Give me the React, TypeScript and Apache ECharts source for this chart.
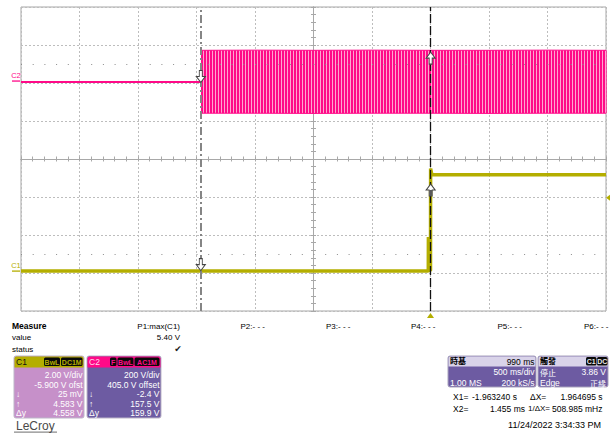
import React, { useEffect, useRef } from "react";
import * as echarts from "echarts";

// ---- Timebase (500 ms/div, 10 div, trigger at t = 0) ----
const timeMin = -3.5;
const timeMax = 1.5;
const timeDiv = 0.5;

// ---- Channel 1 : 2.00 V/div, -5.900 V offset ----
const c1VoltsPerDiv = 2.0;
const c1Offset = -5.9;
const c1Times = [-3.5, -0.019, -0.018, -0.017, 0.0, 0.001, 0.012, 1.5];
const c1Volts = [0.0, 0.0, 1.8, 0.03, 0.03, 5.4, 5.07, 5.07];

// ---- Channel 2 : 200 V/div, 405.0 V offset ----
const c2VoltsPerDiv = 200;
const c2Offset = 405;
const c2FlatTimes = [-3.5, -1.962];
const c2FlatVolts = [0.0, 0.0];
const c2BandTimes = [-1.962, -1.5, -1.0, -0.5, 0.0, 0.5, 1.0, 1.5];
const c2BandUpper = [167, 168, 167, 168, 167, 167, 168, 167];
const c2BandLower = [-164, -164, -165, -164, -164, -165, -164, -164];

// ---- Cursors / trigger ----
const cursorX1 = -1.96324;
const cursorX2 = 0.001455;
const c1AtX1 = 0.025;
const c1AtX2 = 4.583;
const c2AtX1 = -2.4;
const c2AtX2 = 157.5;
const triggerTime = 0;
const triggerLevel = 3.86;

// ---- Readouts ----
const measureHeads = ["P1:max(C1)", "P2:- - -", "P3:- - -", "P4:- - -", "P5:- - -", "P6:- - -"];
const measureRows = ["value", "status"];
const p1Value = "5.40 V";
const c1Readout = ["2.00 V/div", "-5.900 V ofst", "25 mV", "4.583 V", "4.558 V"];
const c2Readout = ["200 V/div", "405.0 V offset", "-2.4 V", "157.5 V", "159.9 V"];
const cursorSymbols = ["↓", "↑", "Δy"];
const timebaseReadout = ["990 ms", "500 ms/div", "1.00 MS", "200 kS/s"];
const triggerReadout = ["停止", "3.86 V", "Edge", "正緣"];
const cursorReadX = ["X1=", "-1.963240 s", "ΔX=", "1.964695 s"];
const cursorReadX2 = ["X2=", "1.455 ms", "1/ΔX=", "508.985 mHz"];
const timestamp = "11/24/2022 3:34:33 PM";

const OLIVE = "#b4ae00";
const MAGENTA = "#ff0a88";
const PINK_LIGHT = "#ffa6d0";
const C1_BODY = "#c690c9";
const PURPLE = "#6d5ba2";
const LAV = "#d9d3e9";
const FONT = '"Liberation Sans", Arial, sans-serif';
const CJK = '"Noto Sans CJK TC", "Noto Sans CJK SC", sans-serif';

const d1 = (v: number) => (v + c1Offset) / c1VoltsPerDiv;
const d2 = (v: number) => (v + c2Offset) / c2VoltsPerDiv;

function txt(text: string, x: number, y: number, size: number, fill: string, align = "left", weight = "normal", family = FONT) {
  return {
    type: "text",
    x,
    y,
    silent: true,
    z: 10,
    style: { text, font: `${weight} ${size}px ${family}`, fill, textAlign: align, textVerticalAlign: "middle" },
  };
}
function rect(x: number, y: number, w: number, h: number, fill: string, r: any = 0, stroke?: string) {
  return {
    type: "rect",
    silent: true,
    z: 9,
    shape: { x, y, width: w, height: h, r },
    style: stroke ? { fill, stroke, lineWidth: 1 } : { fill },
  };
}
function tag(label: string, x: number, y: number, w: number, color: string) {
  return [rect(x, y, w, 8.5, "#0a0a0a", 1.5), { ...txt(label, x + w / 2, y + 4.5, 7, color, "center", "bold"), z: 11 }];
}

const DOWN = "path://M3,0L6,0L6,6L9,6L4.5,12L0,6L3,6Z";
const UP = "path://M4.5,0L9,6L6,6L6,12L3,12L3,6L0,6Z";

export default function App() {
  const ref = useRef<HTMLDivElement>(null);
  useEffect(() => {
    if (!ref.current) return;
    const chart = echarts.init(ref.current, null, { renderer: "svg" });

    const cv = document.createElement("canvas");
    cv.width = 3;
    cv.height = 1;
    const ctx = cv.getContext("2d")!;
    ctx.fillStyle = MAGENTA;
    ctx.fillRect(0, 0, 2, 1);
    ctx.fillStyle = PINK_LIGHT;
    ctx.fillRect(2, 0, 1, 1);
    const bandPattern: any = { image: cv, repeat: "repeat", imageWidth: 3, imageHeight: 1 };

    const gridLine = { show: true, lineStyle: { color: "#bdbdbd", type: [2, 2], width: 1 } };
    const centerAxisCommon = {
      min: timeMin,
      max: timeMax,
      interval: timeDiv,
      axisLabel: { show: false },
      splitLine: { show: false },
      axisLine: { show: true, lineStyle: { color: "#a8a8a8", width: 1 } },
      axisTick: { show: true, length: 2.5, lineStyle: { color: "#a8a8a8" } },
      minorTick: { show: true, splitNumber: 5, length: 2.5, lineStyle: { color: "#a8a8a8" } },
    };
    const centerYCommon = { ...centerAxisCommon, min: -4, max: 4, interval: 1 };

    const graphic: any[] = [];
    // Measure table
    graphic.push(txt("Measure", 12, 326, 8.5, "#000", "left", "bold"));
    graphic.push(txt(measureRows[0], 12, 337.5, 8, "#000"));
    graphic.push(txt(measureRows[1], 12, 349, 8, "#000"));
    graphic.push(txt(measureHeads[0], 180, 326, 8, "#000", "right"));
    graphic.push(txt(p1Value, 180, 337.5, 8, "#000", "right"));
    graphic.push(txt("✔", 178, 349, 9, "#222", "center", "normal", '"DejaVu Sans", sans-serif'));
    const pX = [240.5, 326, 411, 497.5, 584];
    for (let i = 1; i < 6; i++) graphic.push(txt(measureHeads[i], pX[i - 1], 326, 8, "#000"));

    // C1 box
    graphic.push(rect(14, 356, 70, 62, C1_BODY, 2, "#bdb6c8"));
    graphic.push(rect(14.5, 356.5, 69, 11, OLIVE, [2, 2, 0, 0]));
    graphic.push(txt("C1", 16, 362, 8.5, "#111"));
    graphic.push(...tag("BwL", 44, 357.5, 16, OLIVE));
    graphic.push(...tag("DC1M", 61, 357.5, 21.5, OLIVE));
    const rowY = [374.5, 384.5, 394.3, 403.7, 413];
    c1Readout.forEach((s, i) => graphic.push(txt(s, 82.5, rowY[i], 8.5, "#fff", "right")));
    cursorSymbols.forEach((s, i) => graphic.push(txt(s, 16, rowY[i + 2], 8.5, "#fff")));

    // C2 box
    graphic.push(rect(87, 356, 74, 62, PURPLE, 2, "#bdb6c8"));
    graphic.push(rect(87.5, 356.5, 73, 11, MAGENTA, [2, 2, 0, 0]));
    graphic.push(txt("C2", 89, 362, 8.5, "#ffd9ec"));
    graphic.push(...tag("F", 110, 357.5, 6.5, MAGENTA));
    graphic.push(...tag("BwL", 117.5, 357.5, 16, MAGENTA));
    graphic.push(...tag("AC1M", 134.5, 357.5, 25, MAGENTA));
    c2Readout.forEach((s, i) => graphic.push(txt(s, 159.5, rowY[i], 8.5, "#fff", "right")));
    cursorSymbols.forEach((s, i) => graphic.push(txt(s, 89, rowY[i + 2], 8.5, "#fff")));

    // LeCroy logo
    graphic.push(txt("LeCroy", 16, 425.5, 12, "#4a4a4a"));
    graphic.push(rect(14, 431.5, 43, 1.2, "#8a8a8a"));

    // Timebase box
    graphic.push(rect(448, 356, 88, 31, PURPLE, 2, "#a9a3bd"));
    graphic.push(rect(448.5, 356.5, 87, 10, LAV, [2, 2, 0, 0]));
    graphic.push(txt("時基", 450, 360.8, 8, "#000", "left", "bold", CJK));
    graphic.push(txt(timebaseReadout[0], 534.5, 361.5, 8.5, "#000", "right"));
    graphic.push(txt(timebaseReadout[1], 534.5, 372, 8.5, "#fff", "right"));
    graphic.push(txt(timebaseReadout[2], 450, 382.5, 8.5, "#fff"));
    graphic.push(txt(timebaseReadout[3], 534.5, 382.5, 8.5, "#fff", "right"));

    // Trigger box
    graphic.push(rect(538, 356, 70, 31, PURPLE, 2, "#a9a3bd"));
    graphic.push(rect(538.5, 356.5, 69, 10, LAV, [2, 2, 0, 0]));
    graphic.push(txt("觸發", 540, 360.5, 8, "#000", "left", "bold", CJK));
    graphic.push(...tag("C1", 586, 357, 10.5, "#e8e8e8"));
    graphic.push(...tag("DC", 597, 357, 10.5, "#e8e8e8"));
    graphic.push(txt(triggerReadout[0], 540, 372, 8, "#fff", "left", "normal", CJK));
    graphic.push(txt(triggerReadout[1], 606, 372, 8.5, "#fff", "right"));
    graphic.push(txt(triggerReadout[2], 540, 383, 8.5, "#fff"));
    graphic.push(txt(triggerReadout[3], 606, 383, 8, "#fff", "right", "normal", CJK));

    // Cursor readouts
    graphic.push(txt(cursorReadX[0], 453, 396.5, 8.5, "#000"));
    graphic.push(txt(cursorReadX[1], 472, 396.5, 8.5, "#000"));
    graphic.push(txt(cursorReadX[2], 530, 396.5, 8.5, "#000"));
    graphic.push(txt(cursorReadX[3], 602.5, 396.5, 8.5, "#000", "right"));
    graphic.push(txt(cursorReadX2[0], 453, 408.5, 8.5, "#000"));
    graphic.push(txt(cursorReadX2[1], 525, 408.5, 8.5, "#000", "right"));
    graphic.push(txt(cursorReadX2[2], 528, 408.5, 8, "#000"));
    graphic.push(txt(cursorReadX2[3], 602.5, 408.5, 8.5, "#000", "right"));
    graphic.push(txt(timestamp, 601, 425, 9, "#000", "right"));

    const bandItems = c2BandTimes.slice(0, -1).map((t, i) => [
      t,
      d2(c2BandLower[i]),
      d2(c2BandUpper[i]),
      c2BandTimes[i + 1],
      d2(c2BandLower[i + 1]),
      d2(c2BandUpper[i + 1]),
    ]);

    const option: any = {
      animation: false,
      backgroundColor: "#fff",
      grid: { left: 21, top: 7, width: 585, height: 304, show: true, borderColor: "#a6a6a6", borderWidth: 1, backgroundColor: "transparent" },
      xAxis: [
        {
          type: "value", min: timeMin, max: timeMax, interval: timeDiv,
          axisLine: { show: false }, axisTick: { show: false }, axisLabel: { show: false }, splitLine: gridLine,
        },
        { type: "value", position: "bottom", offset: -152, ...centerAxisCommon },
        { type: "value", position: "top", offset: -152, ...centerAxisCommon },
      ],
      yAxis: [
        {
          type: "value", min: -4, max: 4, interval: 1,
          axisLine: { show: false }, axisTick: { show: false }, axisLabel: { show: false }, splitLine: gridLine,
        },
        { type: "value", position: "left", offset: -292.5, ...centerYCommon },
        { type: "value", position: "right", offset: -292.5, ...centerYCommon },
      ],
      graphic,
      series: [
        {
          name: "guides", type: "line", data: [[timeMin, 0]], symbol: "none", lineStyle: { opacity: 0 }, z: 1,
          markLine: {
            silent: true, symbol: ["none", "none"], label: { show: false },
            lineStyle: { color: "#8c8c8c", width: 1, type: [1, 10.7] },
            data: [{ yAxis: 2.5 }, { yAxis: -2.5 }],
          },
        },
        {
          name: "C2", type: "line", data: c2FlatTimes.map((t, i) => [t, d2(c2FlatVolts[i])]),
          symbol: "none", lineStyle: { color: MAGENTA, width: 2 }, z: 3,
          markPoint: {
            silent: true,
            data: [{
              coord: [timeMin, d2(c2FlatVolts[0])], symbol: "rect", symbolSize: [8, 1.3], symbolOffset: [-5, -1],
              itemStyle: { color: MAGENTA },
              label: { show: true, formatter: "C2", position: "top", distance: 1, fontSize: 7.5, fontFamily: FONT, color: MAGENTA },
            }],
          },
        },
        {
          name: "C2 band", type: "custom", coordinateSystem: "cartesian2d", xAxisIndex: 0, yAxisIndex: 0,
          encode: { x: [0, 3], y: [1, 2, 4, 5] },
          data: bandItems, z: 3, silent: true,
          renderItem: (params: any, api: any) => {
            const a = api.coord([api.value(0), api.value(1)]);
            const b = api.coord([api.value(0), api.value(2)]);
            const c = api.coord([api.value(3), api.value(5)]);
            const d = api.coord([api.value(3), api.value(4)]);
            return {
              type: "polygon",
              shape: { points: [a, b, [c[0] + 0.6, c[1]], [d[0] + 0.6, d[1]]] },
              style: { fill: bandPattern },
            };
          },
        },
        {
          name: "C2 max", type: "line", data: c2BandTimes.map((t, i) => [t, d2(c2BandUpper[i])]),
          symbol: "none", lineStyle: { color: MAGENTA, width: 1 }, z: 3,
        },
        {
          name: "C2 min", type: "line", data: c2BandTimes.map((t, i) => [t, d2(c2BandLower[i])]),
          symbol: "none", lineStyle: { color: MAGENTA, width: 1 }, z: 3,
        },
        {
          name: "C1", type: "line", data: c1Times.map((t, i) => [t, d1(c1Volts[i])]),
          symbol: "none", lineStyle: { color: OLIVE, width: 3.5 }, z: 4,
          markPoint: {
            silent: true,
            data: [
              {
                coord: [timeMin, d1(c1Volts[0])], symbol: "rect", symbolSize: [8, 1.3], symbolOffset: [-5, 0],
                itemStyle: { color: OLIVE },
                label: { show: true, formatter: "C1", position: "top", distance: 1, fontSize: 7.5, fontFamily: FONT, color: OLIVE },
              },
              { coord: [triggerTime, -4], symbol: "triangle", symbolSize: [7, 5], symbolOffset: [0, 4.5], itemStyle: { color: OLIVE } },
              { coord: [timeMax, d1(triggerLevel)], symbol: "path://M0,3L5,0L5,6Z", symbolSize: [4, 6], symbolOffset: [2, 0], itemStyle: { color: OLIVE } },
            ],
          },
        },
        {
          name: "cursors", type: "line", data: [[cursorX2, 0]], symbol: "none", lineStyle: { opacity: 0 }, z: 6,
          markLine: {
            silent: true, symbol: ["none", "none"], label: { show: false },
            data: [
              { xAxis: cursorX1, lineStyle: { color: "#858585", width: 2, type: [8, 3, 2, 3] } },
              { xAxis: cursorX2, lineStyle: { color: "#111", width: 1.3, type: [9, 3] } },
            ],
          },
          markPoint: {
            silent: true,
            itemStyle: { color: "#fff", borderColor: "#444", borderWidth: 1 },
            data: [
              { coord: [cursorX1, d2(c2AtX1)], symbol: DOWN, symbolSize: [9, 12], symbolOffset: [0, "-50%"] },
              { coord: [cursorX1, d1(c1AtX1)], symbol: DOWN, symbolSize: [9, 12], symbolOffset: [0, "-50%"] },
              { coord: [cursorX2, d2(c2AtX2)], symbol: UP, symbolSize: [9, 12], symbolOffset: [0, "50%"] },
              { coord: [cursorX2, d1(c1AtX2)], symbol: UP, symbolSize: [9, 12], symbolOffset: [0, "50%"] },
              { coord: [cursorX2, d1(c1AtX2)], symbol: "rect", symbolSize: [3, 6], symbolOffset: [0, 9], itemStyle: { color: "#5a5a5a", borderWidth: 0 } },
            ],
          },
        },
      ],
    };
    chart.setOption(option);
    return () => chart.dispose();
  }, []);
  return <div ref={ref} style={{ position: "absolute", left: 0, top: 0, width: 610, height: 434, background: "#fff" }} />;
}
